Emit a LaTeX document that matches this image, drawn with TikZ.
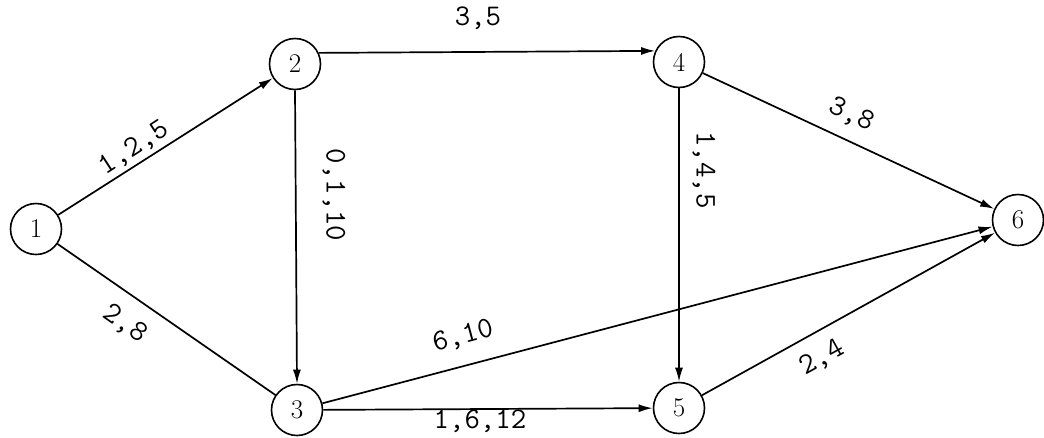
\documentclass[tikz,border=0pt]{standalone}
\usetikzlibrary{arrows.meta}
\begin{document}
\begin{tikzpicture}[x=1pt,y=-1pt,
  vtx/.style={draw, circle, minimum size=51pt, inner sep=0pt, line width=1.6pt, font=\fontsize{27}{27}\selectfont},
  arc/.style={line width=1.7pt, -{Latex[length=14pt,width=8pt]}},
  plain/.style={line width=1.7pt},
  lbl/.style={font=\ttfamily\fontsize{30}{30}\selectfont, inner sep=0pt}]
\useasboundingbox (0,0) rectangle (1044,437);
\node[vtx] (n1) at (36,229) {1};
\node[vtx] (n2) at (295,64) {2};
\node[vtx] (n4) at (679,62) {4};
\node[vtx] (n6) at (1018,220) {6};
\node[vtx] (n3) at (297,410) {3};
\node[vtx] (n5) at (679,408) {5};
\draw[arc] (n1) -- (n2);
\draw[plain] (n1) -- (n3);
\draw[arc] (n2.25) -- (n4.155);
\draw[arc] (n2.south) -- (n3.north);
\draw[arc] (n4.south) -- (n5.north);
\draw[arc] (n4) -- (n6);
\draw[arc] (n3) -- (n6);
\draw[arc] (n5) -- (n6);
\draw[arc] (n3) -- (n5);
\node[lbl, rotate=33] (l12) at (134,148) {1,2,5};
\node[lbl] (l24) at (478,18) {3,5};
\node[lbl, rotate=-90] (l23) at (334,195) {0,1,10};
\node[lbl, rotate=-90] (l45) at (704,170) {1,4,5};
\node[lbl, rotate=-25] (l46) at (852,115) {3,8};
\node[lbl, rotate=-35] (l13) at (125,324) {2,8};
\node[lbl, rotate=15] (l36) at (463,336) {6,10};
\node[lbl] (l35) at (480,421) {1,6,12};
\node[lbl, rotate=29] (l56) at (822,358) {2,4};
\end{tikzpicture}
\end{document}
